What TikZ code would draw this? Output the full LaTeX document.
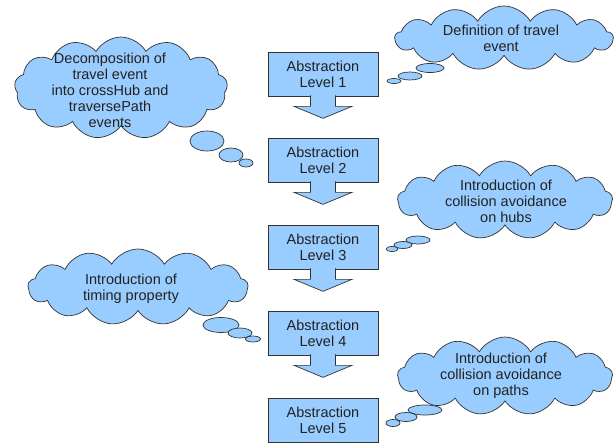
\documentclass[tikz,border=0pt]{standalone}
\usepackage{fontspec}
\setmainfont{Liberation Sans}
\usetikzlibrary{shapes.symbols,calc}
\definecolor{cfill}{HTML}{99CCFF}
\definecolor{cline}{HTML}{333333}
\definecolor{ctext}{HTML}{222222}
\tikzset{
  levelbox/.style   = {draw=cline, fill=cfill, rectangle, minimum width=110pt,
                       minimum height=44pt, align=center, inner sep=0pt},
  thought/.style    = {draw=cline, fill=cfill, cloud, cloud puffs=13,
                       cloud puff arc=120, cloud ignores aspect, inner sep=0pt},
  thoughttext/.style= {align=center, inner sep=0pt},
  puff/.style       = {draw=cline, fill=cfill},
  blockarrow/.style = {draw=cline, fill=cfill, line join=miter},
}
\begin{document}
\begin{tikzpicture}[x=1pt,y=-1pt,font=\fontsize{14.5}{16}\selectfont,
    line width=0.7pt,text=ctext]
\useasboundingbox (0,0) rectangle (616,444);
% abstraction levels
\foreach \i/\y in {1/74,2/160,3/247,4/333,5/420}{
  \node[levelbox] (lvl\i) at (323,\y) {Abstraction\\Level \i};}
% block arrows between levels
\foreach \i in {1,...,4}{
  \draw[blockarrow] ($(lvl\i.south)+(-12.5,-1)$) -- ($(lvl\i.south)+(-12.5,10)$)
    -- ($(lvl\i.south)+(-29,10)$) -- ($(lvl\i.south)+(0,22)$)
    -- ($(lvl\i.south)+(29,10)$) -- ($(lvl\i.south)+(12.5,10)$)
    -- ($(lvl\i.south)+(12.5,-1)$);}
% clouds
\node[thought,minimum width=218pt,minimum height=64pt] (defcloud) at (504,38) {};
\node[thought,minimum width=213pt,minimum height=102pt] (decompcloud) at (121,88) {};
\node[thought,minimum width=215pt,minimum height=78pt] (hubcloud) at (505,200) {};
\node[thought,minimum width=220pt,minimum height=76pt] (timecloud) at (138,287) {};
\node[thought,minimum width=215pt,minimum height=78pt] (pathcloud) at (505,376) {};
% tails
\foreach \cx/\cy/\rx/\ry in {430/68/14/4.5, 410/76/12/4, 394/81/7/2.5,
    207/141/17/10, 231/155/12/7, 246/163/7/4,
    418/240/12/4, 403/245/9/3.5, 392/249/6/2.5,
    221/325/18/7.5, 240/333/12/5, 253/339/7.5/3,
    425/410/17/5, 406/417/11/4.5, 393/423/7/3.5}{
  \draw[puff] (\cx,\cy) ellipse [x radius=\rx, y radius=\ry];}
% texts
\node[thoughttext] (deftext) at (501,38) {Definition of travel\\event};
\node[thoughttext] (decomptext) at (110,90) {Decomposition of\\travel event\\into crossHub and\\traversePath\\events};
\node[thoughttext] (hubtext) at (506,201) {Introduction of\\collision avoidance\\on hubs};
\node[thoughttext] (timetext) at (131,289) {Introduction of\\timing property};
\node[thoughttext] (pathtext) at (501,376) {Introduction of\\collision avoidance\\on paths};
\end{tikzpicture}
\end{document}
